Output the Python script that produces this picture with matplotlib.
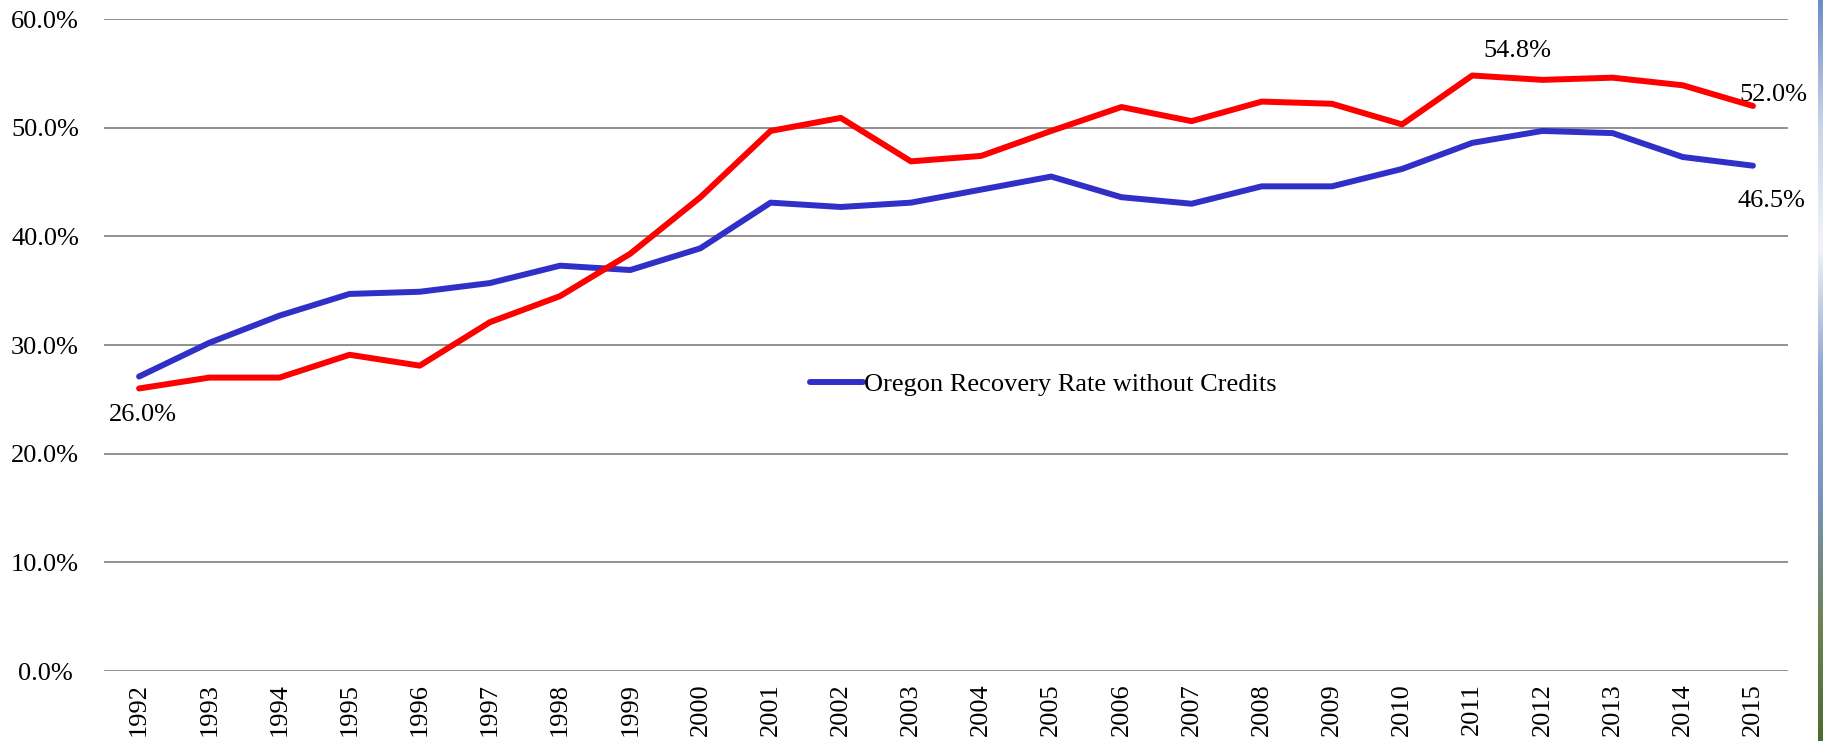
"""Oregon recovery rate, 1992-2015, with and without credits."""

import matplotlib
matplotlib.use("Agg")
import matplotlib.pyplot as plt
import numpy as np
from matplotlib.colors import LinearSegmentedColormap

years = [str(y) for y in range(1992, 2016)]

# recovery rate with credits (red) and without credits (blue), in percent
rate_with_credits = [26.0, 27.0, 27.0, 29.1, 28.1, 32.1, 34.5, 38.4, 43.6, 49.7,
                     50.9, 46.9, 47.4, 49.7, 51.9, 50.6, 52.4, 52.2, 50.3, 54.8,
                     54.4, 54.6, 53.9, 52.0]
rate_without_credits = [27.1, 30.2, 32.7, 34.7, 34.9, 35.7, 37.3, 36.9, 38.9, 43.1,
                        42.7, 43.1, 44.3, 45.5, 43.6, 43.0, 44.6, 44.6, 46.2, 48.6,
                        49.7, 49.5, 47.3, 46.5]

y_ticks = [0, 10, 20, 30, 40, 50, 60]
without_label = "Oregon Recovery Rate without Credits"

# index of labelled point, offset of its label in pixels
red_labels = [(0, (4, -27)), (19, (45, 25)), (23, (20, 11))]
blue_labels = [(23, (19, -35))]

FS = 19
plt.rcParams["font.family"] = ["Liberation Serif", "DejaVu Serif"]

W, H = 1824, 741
fig = plt.figure(figsize=(W / 100, H / 100), dpi=100)
ax = fig.add_axes([104 / W, 1 - 671 / H, (1788 - 104) / W, (671 - 19) / H])

x = np.arange(len(years))
ax.plot(x, rate_without_credits, color="#3030C8", lw=4.3,
        solid_capstyle="round", label=without_label, zorder=3)
ax.plot(x, rate_with_credits, color="#FF0000", lw=4.3,
        solid_capstyle="round", zorder=4)

for i, off in red_labels:
    ax.annotate(f"{rate_with_credits[i]:.1f}%", (x[i], rate_with_credits[i]),
                xytext=off, textcoords="offset pixels",
                ha="center", va="center", fontsize=FS)
for i, off in blue_labels:
    ax.annotate(f"{rate_without_credits[i]:.1f}%", (x[i], rate_without_credits[i]),
                xytext=off, textcoords="offset pixels",
                ha="center", va="center", fontsize=FS)

ax.set_xlim(-0.5, len(years) - 0.5)
ax.set_ylim(0, 60)
ax.set_yticks(y_ticks)
ax.set_yticklabels([f"{v:.1f}%" for v in y_ticks], fontsize=FS)
for lab in ax.get_yticklabels():
    lab.set_horizontalalignment("center")
ax.tick_params(axis="y", length=0, pad=42.5)
ax.set_xticks(x)
ax.set_xticklabels(years, rotation=90, fontsize=FS, va="top")
ax.tick_params(axis="x", length=0, pad=9)

ax.grid(axis="y", color="#888888", lw=1.3)
ax.set_axisbelow(True)
for s in ax.spines.values():
    s.set_visible(False)

ax.legend(loc="center left", bbox_to_anchor=(810 / W, 1 - 384 / H),
          bbox_transform=fig.transFigure, frameon=False, fontsize=FS,
          borderpad=0, borderaxespad=0, handlelength=2.0, handletextpad=0.05)

# thin strip of background photo at the right edge
strip = fig.add_axes([1818 / W, 0, 6 / W, 1])
cmap = LinearSegmentedColormap.from_list(
    "edge", ["#6E8CC8", "#C8D4EA", "#F2F4F8", "#8EA6D4", "#7A94C4", "#6E8456", "#4E6A30"])
strip.imshow(np.linspace(0, 1, 256)[:, None], aspect="auto", cmap=cmap)
strip.axis("off")

fig.savefig("out.png", dpi=100)
